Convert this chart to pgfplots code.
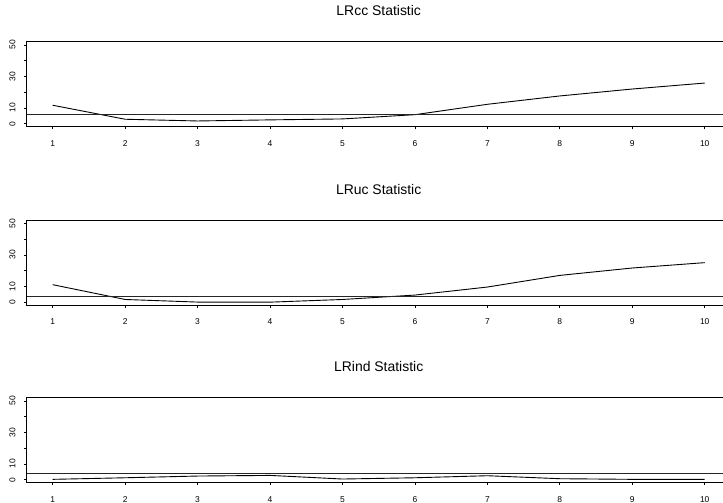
\documentclass[border=0pt]{standalone}
\usepackage{fontspec}
\setmainfont{Liberation Sans}
\usepackage{pgfplots}
\pgfplotsset{compat=1.18}
\pgfplotsset{
  panel/.style={
    scale only axis,
    width=704.2bp, height=85bp,
    anchor=south west,
    xmin=0.64, xmax=10.36, ymin=-2, ymax=52,
    xtick={1,2,...,10},
    ytick={0,10,20,30,40,50},
    yticklabels={0,10,,30,,50},
    tick pos=left,
    tick align=outside,
    major tick length=2.5bp,
    axis line style={line width=0.8bp},
    every tick/.style={black, line width=0.7bp},
    /pgf/number format/assume math mode=true,
    ticklabel style={font=\fontsize{8.5}{9}\selectfont, inner sep=0pt},
    xticklabel style={anchor=north, yshift=-11bp},
    yticklabel style={xshift=-8.5bp, rotate=90, anchor=south},
    title style={at={(axis description cs:0.5,1)}, anchor=base, yshift=20bp, inner sep=0pt, font=\fontsize{14}{16}\selectfont},
    clip=false,
  },
  dline/.style={black, line width=0.9bp},
  hline/.style={black!85, line width=0.9bp},
}
\begin{document}
\begin{tikzpicture}
\useasboundingbox (0,0) rectangle (723bp,-503bp);
\clip (0,0) rectangle (723bp,-503bp);
\begin{axis}[panel, at={(26.6bp,-126.8bp)}, title={LRcc Statistic}]
\addplot[dline] coordinates {(1,11.7)(2,2.8)(3,1.7)(4,2.4)(5,3.0)(6,5.7)(7,12.3)(8,17.6)(9,22.0)(10,25.8)};
\addplot[hline] coordinates {(0.64,5.99)(10.36,5.99)};
\end{axis}
\begin{axis}[panel, at={(26.6bp,-305.3bp)}, title={LRuc Statistic}]
\addplot[dline] coordinates {(1,11.1)(2,1.7)(3,0.05)(4,0.0)(5,1.7)(6,4.5)(7,9.6)(8,17.0)(9,21.7)(10,25.1)};
\addplot[hline] coordinates {(0.64,3.84)(10.36,3.84)};
\end{axis}
\begin{axis}[panel, at={(26.6bp,-482.8bp)}, title={LRind Statistic}]
\addplot[dline] coordinates {(1,0.2)(2,1.2)(3,2.3)(4,2.7)(5,0.4)(6,1.2)(7,2.5)(8,0.6)(9,0.2)(10,0.2)};
\addplot[hline] coordinates {(0.64,3.84)(10.36,3.84)};
\end{axis}
\end{tikzpicture}
\end{document}
